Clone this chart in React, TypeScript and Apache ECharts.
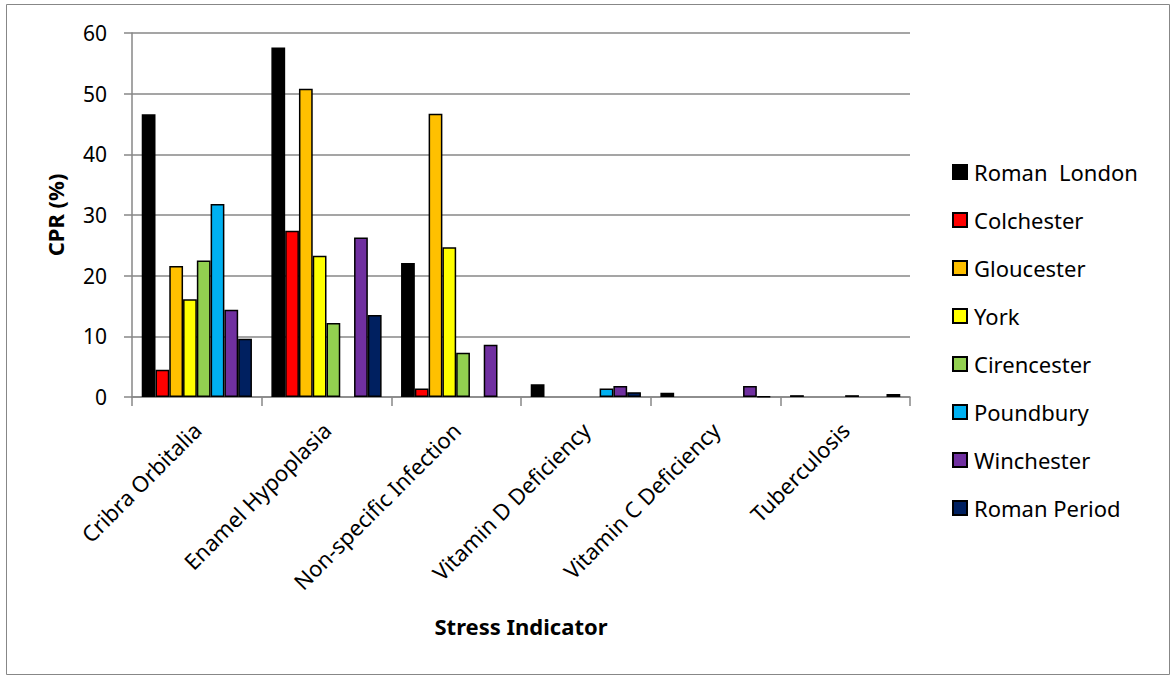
import React, { useEffect, useRef } from "react";
import * as echarts from "echarts";

const categories = [
  "Cribra Orbitalia",
  "Enamel Hypoplasia",
  "Non-specific Infection",
  "Vitamin D Deficiency",
  "Vitamin C Deficiency",
  "Tuberculosis",
];

const seriesNames = [
  "Roman  London",
  "Colchester",
  "Gloucester",
  "York",
  "Cirencester",
  "Poundbury",
  "Winchester",
  "Roman Period",
];

const seriesColors = [
  "#000000",
  "#FF0000",
  "#FFC000",
  "#FFFF00",
  "#92D050",
  "#00B0F0",
  "#7030A0",
  "#002060",
];

const romanLondon = [46.6, 57.6, 22.1, 2.1, 0.7, 0.3];
const colchester = [4.5, 27.4, 1.4, null, null, null];
const gloucester = [21.6, 50.8, 46.7, null, null, null];
const york = [16.1, 23.3, 24.7, null, null, null];
const cirencester = [22.5, 12.2, 7.3, null, null, 0.3];
const poundbury = [31.8, null, null, 1.4, null, null];
const winchester = [14.4, 26.3, 8.6, 1.8, 1.8, null];
const romanPeriod = [9.6, 13.5, null, 0.8, 0.1, 0.5];

const seriesValues = [
  romanLondon,
  colchester,
  gloucester,
  york,
  cirencester,
  poundbury,
  winchester,
  romanPeriod,
];

const yTicks = { min: 0, max: 60, interval: 10 };

const FONT = "Noto Sans";

export default function App() {
  const ref = useRef<HTMLDivElement>(null);
  useEffect(() => {
    if (!ref.current) return;
    const chart = echarts.init(ref.current, null, { renderer: "svg" });
    chart.setOption({
      animation: false,
      backgroundColor: "#ffffff",
      textStyle: { fontFamily: FONT },
      graphic: [
        {
          type: "rect",
          shape: { x: 6.5, y: 4.5, width: 1163, height: 670 },
          style: { fill: "none", stroke: "#878787", lineWidth: 1 },
          silent: true,
        },
      ],
      grid: { left: 132, top: 33, right: 266, bottom: 282, containLabel: false },
      legend: {
        orient: "vertical",
        left: 952,
        top: 161,
        itemWidth: 14,
        itemHeight: 14,
        itemGap: 26,
        padding: 0,
        icon: "rect",
        textStyle: { fontSize: 22, color: "#000", fontFamily: FONT, padding: [0, 0, 0, 2] },
        data: seriesNames,
      },
      xAxis: {
        type: "category",
        data: categories,
        name: "Stress Indicator",
        nameLocation: "middle",
        nameGap: 218,
        nameTextStyle: { fontSize: 22, fontWeight: "bold", color: "#000", fontFamily: FONT },
        axisLine: { lineStyle: { color: "#878787", width: 1.5 } },
        axisTick: { show: true, length: 9, interval: 0, lineStyle: { color: "#878787", width: 1.5 } },
        axisLabel: { rotate: 45, interval: 0, fontSize: 22, color: "#000", margin: 29, fontFamily: FONT },
      },
      yAxis: {
        type: "value",
        min: yTicks.min,
        max: yTicks.max,
        interval: yTicks.interval,
        name: "CPR (%)",
        nameLocation: "middle",
        nameGap: 66,
        nameRotate: 90,
        nameTextStyle: { fontSize: 22, fontWeight: "bold", color: "#000", fontFamily: FONT },
        axisLine: { show: true, lineStyle: { color: "#878787", width: 1.5 } },
        axisTick: { show: true, length: 8, lineStyle: { color: "#878787", width: 1.5 } },
        axisLabel: { fontSize: 21, color: "#000", margin: 25, fontFamily: FONT },
        splitLine: { show: true, lineStyle: { color: "#878787", width: 1.5 } },
      },
      series: seriesNames.map((name, i) => ({
        name,
        type: "bar",
        data: seriesValues[i],
        barGap: "0%",
        barCategoryGap: "15%",
        itemStyle: { color: seriesColors[i], borderColor: "#000", borderWidth: 1.5 },
      })),
    });
    return () => chart.dispose();
  }, []);
  return (
    <div
      ref={ref}
      style={{ position: "fixed", left: 0, top: 0, width: 1176, height: 679 }}
    />
  );
}
